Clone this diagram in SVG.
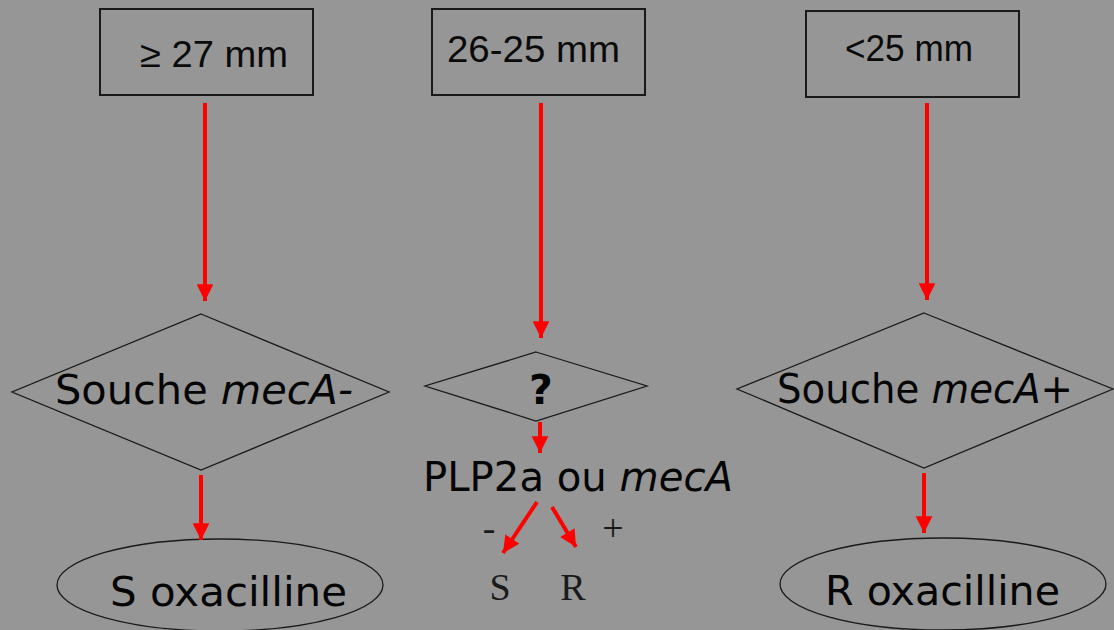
<svg xmlns="http://www.w3.org/2000/svg" width="1114" height="630" viewBox="0 0 1114 630">
  <defs>
    <marker id="ah" viewBox="0 0 10 10" refX="10" refY="5" markerWidth="4.2" markerHeight="4.2" orient="auto" markerUnits="strokeWidth">
      <path d="M0,0 L10,5 L0,10 Z" fill="#ff0000"/>
    </marker>
    <style>
      .box { fill: none; stroke: #1a1a1a; stroke-width: 2; }
      .shape { fill: none; stroke: #1a1a1a; stroke-width: 1.3; }
      .arrow { stroke: #ff0000; stroke-width: 4; fill: none; marker-end: url(#ah); }
      .sans { font-family: "Liberation Sans", Arial, sans-serif; font-size: 37px; fill: #0a0a0a; }
      .round { font-family: "DejaVu Sans", "Noto Sans", sans-serif; font-size: 41px; fill: #050505; }
      .serif { font-family: "Liberation Serif", "Times New Roman", serif; fill: #1a1a1a; }
    </style>
  </defs>
  <rect width="1114" height="630" fill="#969696"/>

  <!-- top threshold boxes -->
  <g id="box-high">
    <rect class="box" x="100" y="9" width="213" height="86"/>
    <text class="sans" x="140" y="67" textLength="148" lengthAdjust="spacingAndGlyphs">≥ 27 mm</text>
  </g>
  <g id="box-mid">
    <rect class="box" x="432" y="9" width="213" height="86"/>
    <text class="sans" x="447" y="62" textLength="173" lengthAdjust="spacingAndGlyphs">26-25 mm</text>
  </g>
  <g id="box-low">
    <rect class="box" x="806" y="11" width="213" height="86"/>
    <text class="sans" x="845" y="61" textLength="128" lengthAdjust="spacingAndGlyphs">&lt;25 mm</text>
  </g>

  <!-- decision diamonds -->
  <g id="dec-neg">
    <polygon class="shape" points="201,314 389,392 201,470 12,392"/>
    <text class="round" x="55" y="404" textLength="298" lengthAdjust="spacingAndGlyphs">Souche <tspan font-style="italic">mecA-</tspan></text>
  </g>
  <g id="dec-unknown">
    <polygon class="shape" points="536,352 647,386 536,421 425,386"/>
    <text class="round" x="541" y="404" text-anchor="middle" font-size="40" font-weight="bold">?</text>
  </g>
  <g id="dec-pos">
    <polygon class="shape" points="924,313 1113,389 924,468 737,389"/>
    <text class="round" x="777" y="403" textLength="296" lengthAdjust="spacingAndGlyphs">Souche <tspan font-style="italic">mecA+</tspan></text>
  </g>

  <!-- test step -->
  <g id="test">
    <text class="round" x="423" y="491" textLength="310" lengthAdjust="spacingAndGlyphs">PLP2a ou <tspan font-style="italic">mecA</tspan></text>
    <text class="serif" x="489" y="541" font-size="38" text-anchor="middle">-</text>
    <text class="serif" x="613" y="541" font-size="38" text-anchor="middle">+</text>
    <text class="serif" x="500" y="600" font-size="38" text-anchor="middle">S</text>
    <text class="serif" x="573" y="600" font-size="38" text-anchor="middle">R</text>
  </g>

  <!-- results -->
  <g id="res-s">
    <ellipse class="shape" cx="220" cy="585" rx="163" ry="46"/>
    <text class="round" x="110" y="606" textLength="237" lengthAdjust="spacingAndGlyphs">S oxacilline</text>
  </g>
  <g id="res-r">
    <ellipse class="shape" cx="943" cy="584" rx="163" ry="46"/>
    <text class="round" x="825" y="605" textLength="235" lengthAdjust="spacingAndGlyphs">R oxacilline</text>
  </g>

  <!-- connectors -->
  <g id="connectors">
    <line class="arrow" x1="205" y1="103" x2="205" y2="301"/>
    <line class="arrow" x1="201" y1="475" x2="201" y2="540"/>
    <line class="arrow" x1="541" y1="103" x2="541" y2="338"/>
    <line class="arrow" x1="540" y1="422" x2="540" y2="453"/>
    <line class="arrow" x1="537" y1="502" x2="503" y2="553"/>
    <line class="arrow" x1="552" y1="507" x2="576" y2="547"/>
    <line class="arrow" x1="927" y1="103" x2="927" y2="300"/>
    <line class="arrow" x1="924" y1="473" x2="924" y2="533"/>
  </g>
</svg>
